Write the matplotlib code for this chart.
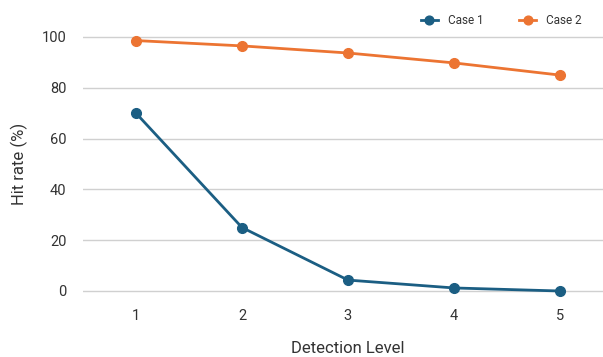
import matplotlib
matplotlib.use("Agg")
import matplotlib.pyplot as plt

levels = [1, 2, 3, 4, 5]
case1 = [70, 25, 4.3, 1.2, 0]
case2 = [98.6, 96.5, 93.7, 89.8, 85]
yticks = [0, 20, 40, 60, 80, 100]

plt.rcParams['font.family'] = ['Roboto', 'DejaVu Sans']
txt = '#333333'

W, H = 603, 357
fig = plt.figure(figsize=(W/100, H/100), dpi=100)
# pixel geometry
x_lo, x_hi = 83, 613   # x=0.5 .. 5.5
y0_px, y100_px = 291, 37
ppu = (y0_px - y100_px) / 100
ylo, yhi = -3, 103
top_px = y100_px - (yhi - 100) * ppu
bot_px = y0_px + (0 - ylo) * ppu
ax = fig.add_axes([x_lo/W, 1 - bot_px/H, (x_hi - x_lo)/W, (bot_px - top_px)/H])
ax.set_xlim(0.5, 5.5)
ax.set_ylim(ylo, yhi)

ax.plot(levels, case1, color='#1b5e83', lw=2, marker='o', ms=7, label='Case 1', zorder=3)
ax.plot(levels, case2, color='#ec7432', lw=2, marker='o', ms=7, label='Case 2', zorder=3)

ax.set_yticks(yticks)
ax.set_xticks(levels)
ax.grid(axis='y', color='#d0d0d0', lw=1)
ax.set_axisbelow(True)
for s in ax.spines.values():
    s.set_visible(False)
ax.tick_params(length=0, labelsize=10.5, colors=txt)
ax.tick_params(axis='x', pad=7.5)
ax.tick_params(axis='y', pad=12)
ax.set_ylabel('Hit rate (%)', fontsize=12, color=txt, labelpad=10)
ax.set_xlabel('Detection Level', fontsize=12, color=txt, labelpad=13)

fig.legend(loc='upper right', bbox_to_anchor=(0.982, 0.99), ncol=2, frameon=False,
           fontsize=8.5, handlelength=1.5, columnspacing=3.0, markerscale=0.9,
           labelcolor=txt)

fig.savefig('out.png', dpi=100)
